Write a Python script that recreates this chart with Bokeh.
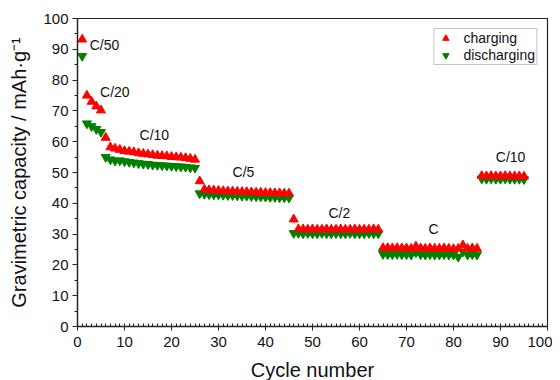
from bokeh.plotting import figure
from bokeh.models import ColumnDataSource, Legend, LegendItem, FixedTicker, Range1d, Label
from bokeh.embed import file_html
from bokeh.resources import INLINE

# Charging (red, up triangles)
charge_cycles = list(range(1, 96))
charge_values = [
    93.2,                                   # 1  C/50
    75.0, 73.0, 71.5, 70.2,                 # 2-5 C/20
    61.3,                                   # 6
    58.2, 57.8, 57.4, 57.0, 56.8, 56.6, 56.3, 56.1, 55.9, 55.7,
    55.5, 55.4, 55.3, 55.1, 55.0, 54.9, 54.7, 54.5, 54.2,   # 7-25 C/10
    47.2,                                   # 26
    44.5, 44.3, 44.2, 44.1, 44.0, 43.9, 43.9, 43.8, 43.7, 43.7,
    43.6, 43.5, 43.5, 43.4, 43.4, 43.3, 43.3, 43.2, 43.2,   # 27-45 C/5
    34.8,                                   # 46
    31.6, 31.6, 31.5, 31.6, 31.5, 31.5, 31.6, 31.5, 31.5, 31.6,
    31.5, 31.5, 31.6, 31.5, 31.5, 31.5, 31.6, 31.5,         # 47-64 C/2
    25.5, 25.5, 25.4, 25.5, 25.4, 25.4, 25.3, 26.0, 25.4, 25.3,
    25.4, 25.3, 25.3, 25.4, 25.3, 25.2, 25.3, 26.4, 25.3, 25.4, 25.3,  # 65-85 C
    48.9, 48.8, 48.9, 48.8, 48.8, 48.9, 48.8, 48.8, 48.8, 48.7,        # 86-95 C/10
]

# Discharging (green, down triangles)
discharge_cycles = list(range(1, 96))
discharge_values = [
    87.8,                                   # 1
    65.9, 65.0, 64.1, 63.1,                 # 2-5
    55.0, 54.2, 53.8, 53.9, 53.6, 53.4, 53.2, 53.0, 52.8, 52.7,
    52.5, 52.4, 52.3, 52.2, 52.1, 52.0, 51.9, 51.8, 51.6, 51.5,   # 6-25
    43.2, 43.0, 42.9, 42.8, 42.8, 42.7, 42.6, 42.6, 42.5, 42.4,
    42.4, 42.3, 42.2, 42.2, 42.1, 42.0, 42.0, 41.9, 41.9, 41.8,   # 26-45
    30.3, 30.3, 30.2, 30.3, 30.2, 30.2, 30.3, 30.2, 30.2, 30.3,
    30.2, 30.2, 30.3, 30.2, 30.2, 30.2, 30.3, 30.2, 30.2,         # 46-64
    23.5, 23.4, 23.4, 23.5, 23.4, 23.4, 23.3, 24.0, 23.4, 23.3,
    23.4, 23.3, 23.3, 23.4, 23.3, 23.3, 22.6, 24.3, 23.3, 23.4, 23.3,  # 65-85
    48.0, 47.9, 48.0, 47.9, 47.9, 48.0, 47.9, 47.9, 47.9, 47.8,        # 86-95
]

rate_labels = ["C/50", "C/20", "C/10", "C/5", "C/2", "C", "C/10"]
rate_label_x = [2.6, 4.8, 13.2, 33.0, 53.4, 74.7, 89.0]
rate_label_y = [91.5, 76.0, 62.3, 50.3, 37.0, 31.5, 54.9]

x_ticks = list(range(0, 101, 10))
y_ticks = list(range(0, 101, 10))

FONT = "Liberation Sans"

p = figure(output_backend="svg", toolbar_location=None,
           frame_width=470, frame_height=308,
           min_border_left=77, min_border_right=5, min_border_top=18, min_border_bottom=50,
           x_range=Range1d(0, 100), y_range=Range1d(0, 100))
p.grid.visible = False
p.outline_line_color = "#222222"
p.outline_line_width = 1.2

src_c = ColumnDataSource(dict(x=charge_cycles, y=charge_values))
src_d = ColumnDataSource(dict(x=discharge_cycles, y=discharge_values))
r_c = p.scatter("x", "y", source=src_c, marker="triangle", size=9,
                fill_color="#ff0000", line_color="#ff0000")
r_d = p.scatter("x", "y", source=src_d, marker="inverted_triangle", size=9,
                fill_color="#008000", line_color="#008000")
p.renderers = [r_d, r_c]

for t, x, y in zip(rate_labels, rate_label_x, rate_label_y):
    p.add_layout(Label(x=x, y=y, text=t, text_font=FONT, text_font_size="14px",
                       text_color="#111111", text_baseline="middle", text_align="left"))

for ax in (p.xaxis[0], p.yaxis[0]):
    ax.axis_line_width = 1.3
    ax.axis_line_color = "#222222"
    ax.major_tick_line_color = "#222222"
    ax.minor_tick_line_color = "#222222"
    ax.major_label_text_font = FONT
    ax.major_label_text_font_size = "15px"
    ax.major_label_text_color = "#111111"
    ax.axis_label_text_font = FONT
    ax.axis_label_text_font_size = "20px"
    ax.axis_label_text_font_style = "normal"
    ax.axis_label_text_color = "#111111"

p.xaxis.ticker = FixedTicker(ticks=x_ticks, minor_ticks=list(range(0, 101)))
p.yaxis.ticker = FixedTicker(ticks=y_ticks, minor_ticks=list(range(0, 101, 5)))
p.xaxis.major_tick_in = 0
p.xaxis.major_tick_out = 4
p.xaxis.minor_tick_in = 3
p.xaxis.minor_tick_out = 0
p.yaxis.major_tick_in = 0
p.yaxis.major_tick_out = 5
p.yaxis.minor_tick_in = 0
p.yaxis.minor_tick_out = 3
p.xaxis.major_label_standoff = 6
p.yaxis.major_label_standoff = 4
p.xaxis.axis_label = "Cycle number"
p.yaxis.axis_label = "Gravimetric capacity / mAh\u00b7g\u207b\u00b9"
p.xaxis.axis_label_standoff = 9
p.yaxis.axis_label_standoff = 10

legend = Legend(items=[LegendItem(label="charging", renderers=[r_c]),
                       LegendItem(label="discharging", renderers=[r_d])],
                location="top_right", border_line_color="#888888", border_line_width=1,
                label_text_font=FONT, label_text_font_size="14px",
                label_text_color="#111111", glyph_width=20, glyph_height=16,
                spacing=1, padding=1, margin=10, label_height=16, label_standoff=8,
                background_fill_alpha=1.0)
p.add_layout(legend)

open("out.html", "w").write(file_html(p, INLINE))
